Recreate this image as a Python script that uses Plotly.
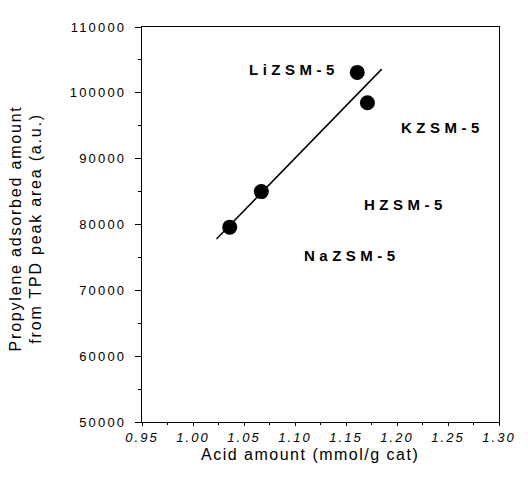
import plotly.graph_objects as go

# Data
acid_amount = [1.036, 1.067, 1.161, 1.171]
propylene_adsorbed = [79600, 85000, 103100, 98500]

fit_x = [1.023, 1.185]
fit_y = [77800, 103600]

label_text = ["LiZSM-5", "KZSM-5", "HZSM-5", "NaZSM-5"]
label_x = [1.099, 1.245, 1.208, 1.156]
label_y = [103500, 94800, 83100, 75300]

x_ticks = [0.95, 1.00, 1.05, 1.10, 1.15, 1.20, 1.25, 1.30]
y_ticks = [50000, 60000, 70000, 80000, 90000, 100000, 110000]

FONT = "Liberation Sans, Arial, sans-serif"


def spaced(t, px):
    return '<span style="letter-spacing:%spx">%s</span>' % (px, t)


fig = go.Figure()
fig.add_trace(go.Scatter(x=fit_x, y=fit_y, mode="lines",
                         line=dict(color="black", width=1.5), showlegend=False))
fig.add_trace(go.Scatter(x=acid_amount, y=propylene_adsorbed, mode="markers",
                         marker=dict(color="black", size=15), showlegend=False))

for t, x, y in zip(label_text, label_x, label_y):
    fig.add_annotation(x=x, y=y, text="<b>" + spaced(t, 4.5) + "</b>",
                       showarrow=False, font=dict(family=FONT, size=15, color="black"))

# axis titles as annotations for exact placement
fig.add_annotation(xref="paper", yref="paper", x=-0.325, y=0.49,
                   text=spaced("Propylene adsorbed amount", 1.8) + "<br>" +
                   spaced("from TPD peak area (a.u.)", 1.8),
                   textangle=-90, showarrow=False, xanchor="center", yanchor="middle",
                   font=dict(family=FONT, size=16, color="black"))
fig.add_annotation(xref="paper", yref="paper", x=0.47, y=-0.082,
                   text=spaced("Acid amount (mmol/g cat)", 1.5),
                   showarrow=False, xanchor="center", yanchor="middle",
                   font=dict(family=FONT, size=16, color="black"))

fig.update_xaxes(range=[0.95, 1.30], tickvals=x_ticks,
                 ticktext=["<i>" + spaced("%.2f" % v, 2) + "</i>" for v in x_ticks],
                 ticks="outside", ticklen=3, tickcolor="black",
                 minor=dict(ticks="outside", ticklen=2, dtick=0.025, tickcolor="black"),
                 showline=True, linecolor="black", linewidth=1.2, mirror=True,
                 showgrid=False, zeroline=False,
                 tickfont=dict(family=FONT, size=13, color="black"))
fig.update_yaxes(range=[50000, 110000], tickvals=y_ticks,
                 ticktext=[spaced(str(v), 2.2) for v in y_ticks],
                 ticks="outside", ticklen=6, tickcolor="black", ticklabelstandoff=6,
                 minor=dict(ticks="outside", ticklen=3, dtick=5000, tickcolor="black"),
                 showline=True, linecolor="black", linewidth=1.2, mirror=True,
                 showgrid=False, zeroline=False,
                 tickfont=dict(family=FONT, size=13, color="black"))

fig.update_layout(width=520, height=469, plot_bgcolor="white", paper_bgcolor="white",
                  margin=dict(l=134, r=20, t=15, b=55))

fig.write_html("out.html")
